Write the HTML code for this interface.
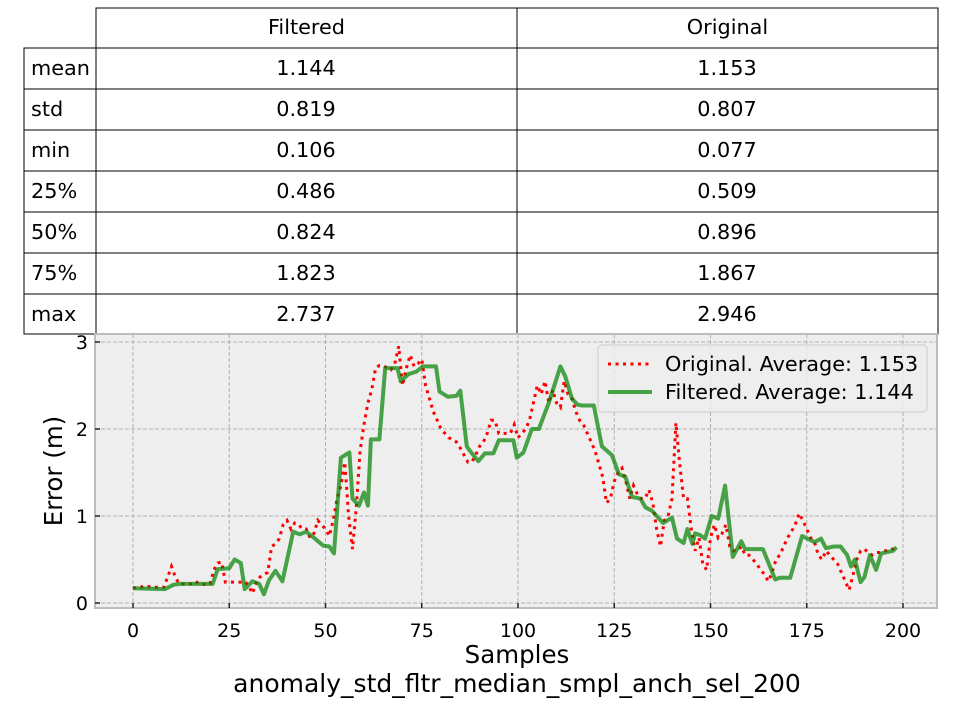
<!DOCTYPE html>
<html><head><meta charset="utf-8"><style>
body{margin:0;background:#fff;width:960px;height:720px;overflow:hidden;font-family:"Liberation Sans","DejaVu Sans",sans-serif}
svg text{font-family:"DejaVu Sans","Liberation Sans",sans-serif}
</style></head><body>
<svg id="c" width="960" height="720" xmlns="http://www.w3.org/2000/svg"></svg>
<script>
const rowLabels=["mean","std","min","25%","50%","75%","max"];
const colLabels=["Filtered","Original"];
const filteredStats=["1.144","0.819","0.106","0.486","0.824","1.823","2.737"];
const originalStats=["1.153","0.807","0.077","0.509","0.896","1.867","2.946"];
const xTicks=[0,25,50,75,100,125,150,175,200];
const yTicks=[0,1,2,3];
const filtX=[0,8.3,10.6,12.3,20.7,22,25,26.4,28,29,31,32.8,34,35.3,37,38.8,41.6,43.3,45,47,49.4,51,52.2,54,56.2,57,58.7,60,61,61.8,64,65.5,68.7,69.5,71.5,73.6,75.3,78.7,79.6,81.8,84,85,86.7,87.5,89.7,91.4,93.6,95,98.8,99.7,101.4,103.6,105.4,108,111,112.3,114,115.4,116.7,119.7,121.8,124.4,126.2,127.9,129.6,131.8,133.1,134.8,137.7,140,141.3,143,144,145.3,146,147.3,148.6,150.3,152,153.8,155.8,158,159,163.6,166.8,168,170.7,173.8,177,178.7,180,182,183.8,185.5,186.5,187.5,189,190,191.4,193,194.3,197.4,198.3];
const filtY=[0.17,0.16,0.21,0.22,0.22,0.39,0.4,0.5,0.46,0.16,0.25,0.22,0.1,0.26,0.37,0.25,0.82,0.79,0.82,0.75,0.66,0.65,0.57,1.67,1.73,1.2,1.12,1.27,1.12,1.88,1.88,2.7,2.7,2.55,2.63,2.66,2.72,2.72,2.43,2.37,2.38,2.44,1.8,1.75,1.63,1.72,1.72,1.87,1.87,1.67,1.73,2.0,2.0,2.3,2.72,2.6,2.35,2.28,2.27,2.27,1.8,1.7,1.48,1.45,1.22,1.2,1.1,1.06,0.92,0.98,0.74,0.69,0.85,0.68,0.8,0.78,0.74,1.0,0.97,1.35,0.53,0.71,0.62,0.62,0.27,0.29,0.29,0.77,0.7,0.74,0.63,0.65,0.65,0.55,0.42,0.5,0.24,0.3,0.55,0.38,0.57,0.6,0.64];
const origY=[0.17,0.18,0.18,0.2,0.19,0.18,0.18,0.18,0.18,0.3,0.42,0.3,0.22,0.22,0.22,0.22,0.25,0.23,0.21,0.22,0.22,0.38,0.46,0.47,0.24,0.24,0.24,0.24,0.24,0.25,0.2,0.11,0.23,0.3,0.33,0.35,0.65,0.68,0.74,0.9,0.95,0.85,0.92,0.9,0.85,0.85,0.75,0.8,0.95,0.9,0.85,0.77,0.95,1.2,1.35,1.62,1.0,0.62,1.1,1.75,2.05,2.3,2.45,2.7,2.73,2.73,2.7,2.68,2.75,2.95,2.5,2.7,2.85,2.72,2.75,2.8,2.5,2.35,2.2,2.1,2.0,1.95,1.9,1.88,1.85,1.78,1.7,1.62,1.62,1.7,1.8,1.85,1.95,2.1,2.1,1.95,1.95,1.95,1.95,2.05,1.9,1.95,2.0,2.1,2.3,2.5,2.4,2.55,2.3,2.45,2.3,2.25,2.55,2.4,2.35,2.2,2.1,2.05,1.95,1.85,1.75,1.6,1.45,1.15,1.2,1.4,1.5,1.55,1.4,1.2,1.35,1.25,1.2,1.2,1.3,1.15,0.85,0.65,0.95,1.0,1.2,2.07,1.6,1.2,1.2,0.85,0.6,0.75,0.45,0.38,0.75,0.9,0.75,0.8,0.9,0.65,0.6,0.6,0.65,0.55,0.55,0.5,0.45,0.38,0.33,0.25,0.35,0.5,0.55,0.65,0.75,0.82,0.9,1.03,0.95,0.85,0.75,0.7,0.55,0.5,0.6,0.55,0.5,0.45,0.35,0.25,0.15,0.32,0.5,0.6,0.62,0.58,0.55,0.58,0.58,0.6,0.6,0.62,0.62];

const NS="http://www.w3.org/2000/svg";
const svg=document.getElementById('c');
function mk(tag,attrs,parent){const e=document.createElementNS(NS,tag);for(const k in attrs)e.setAttribute(k,attrs[k]);(parent||svg).appendChild(e);return e;}
const X0=95,X1=937,Y0=334,Y1=608;
function sx(s){return 133+s*3.85;}
function sy(v){return 603-v*87;}
const FS=20.8;

// table
const tbl=mk('g',{});


const rowH=41,tableTop=8,colX=[24,96,517,938];
colLabels.forEach((c,i)=>{
  mk('rect',{x:colX[i+1],y:tableTop,width:colX[i+2]-colX[i+1],height:40,fill:'none',stroke:'#000','stroke-width':1},tbl);
  const t=mk('text',{x:(colX[i+1]+colX[i+2])/2,y:tableTop+26,'font-size':FS,'text-anchor':'middle'},tbl);
  t.textContent=c;
  
  
});
rowLabels.forEach((lab,j)=>{
  const y=48+j*rowH;
  const h=(j==6)?40:rowH;
  mk('rect',{x:24,y:y,width:72,height:h,fill:'none',stroke:'#000'},tbl);
  mk('rect',{x:96,y:y,width:421,height:h,fill:'none',stroke:'#000'},tbl);
  mk('rect',{x:517,y:y,width:421,height:h,fill:'none',stroke:'#000'},tbl);
  const t=mk('text',{x:31,y:y+27,'font-size':FS},tbl);t.textContent=lab;
  
  
  const a=mk('text',{x:306,y:y+27,'font-size':FS,'text-anchor':'middle'},tbl);a.textContent=filteredStats[j];
  
  
  const b=mk('text',{x:727,y:y+27,'font-size':FS,'text-anchor':'middle'},tbl);b.textContent=originalStats[j];
  
  
});

// plot bg
const bg=mk('rect',{x:X0,y:Y0,width:X1-X0,height:Y1-Y0,fill:'#eeeeee'});


const grid=mk('g',{stroke:'#b0b0b0','stroke-width':1,'stroke-dasharray':'4,2'});


xTicks.forEach(t=>{mk('line',{x1:sx(t),x2:sx(t),y1:Y0,y2:Y1},grid);});
yTicks.forEach(t=>{mk('line',{x1:X0,x2:X1,y1:sy(t),y2:sy(t)},grid);});
mk('rect',{x:X0,y:Y0,width:X1-X0,height:Y1-Y0,fill:'none',stroke:'#bcbcbc','stroke-width':2});
xTicks.forEach(t=>{
  mk('line',{x1:sx(t),x2:sx(t),y1:Y1,y2:Y1-5,stroke:'#222','stroke-width':1.5});
  const e=mk('text',{x:sx(t),y:637,'font-size':19,'text-anchor':'middle',fill:'#000'});e.textContent=t;
  
  
});
yTicks.forEach(t=>{
  mk('line',{x1:X0,x2:X0+5,y1:sy(t),y2:sy(t),stroke:'#222','stroke-width':1.5});
  const e=mk('text',{x:88,y:sy(t)+7,'font-size':19,'text-anchor':'end',fill:'#000'});e.textContent=t;
  
  
});

// series
let d='';origY.forEach((v,i)=>{d+=(i?'L':'M')+sx(i).toFixed(1)+','+sy(v).toFixed(1);});
const orig=mk('path',{d:d,fill:'none',stroke:'#ff0000','stroke-width':3,'stroke-dasharray':'3,4.5'});


d='';filtX.forEach((s,i)=>{d+=(i?'L':'M')+sx(s).toFixed(1)+','+sy(filtY[i]).toFixed(1);});
const filt=mk('path',{d:d,fill:'none',stroke:'#008000','stroke-opacity':0.7,'stroke-width':4,'stroke-linejoin':'round'});



// legend
const lg=mk('g',{});


mk('rect',{x:598,y:345,width:329,height:67,rx:4,fill:'#eeeeee','fill-opacity':0.8,stroke:'#cccccc'},lg);
mk('line',{x1:608,x2:652,y1:364,y2:364,stroke:'#ff0000','stroke-width':3,'stroke-dasharray':'3,4.5'},lg);
mk('line',{x1:608,x2:652,y1:392,y2:392,stroke:'#008000','stroke-opacity':0.7,'stroke-width':4},lg);
let t=mk('text',{x:665,y:371,'font-size':FS},lg);t.textContent='Original. Average: 1.153';


t=mk('text',{x:665,y:399,'font-size':FS},lg);t.textContent='Filtered. Average: 1.144';



// axis labels
t=mk('text',{x:517,y:663,'font-size':24.5,'text-anchor':'middle'});t.textContent='Samples';


t=mk('text',{x:517,y:692,'font-size':25,'text-anchor':'middle'});t.textContent='anomaly_std_fltr_median_smpl_anch_sel_200';


t=mk('text',{x:62,y:471,'font-size':24.5,'text-anchor':'middle',transform:'rotate(-90 62 471)'});t.textContent='Error (m)';


</script>
</body></html>
